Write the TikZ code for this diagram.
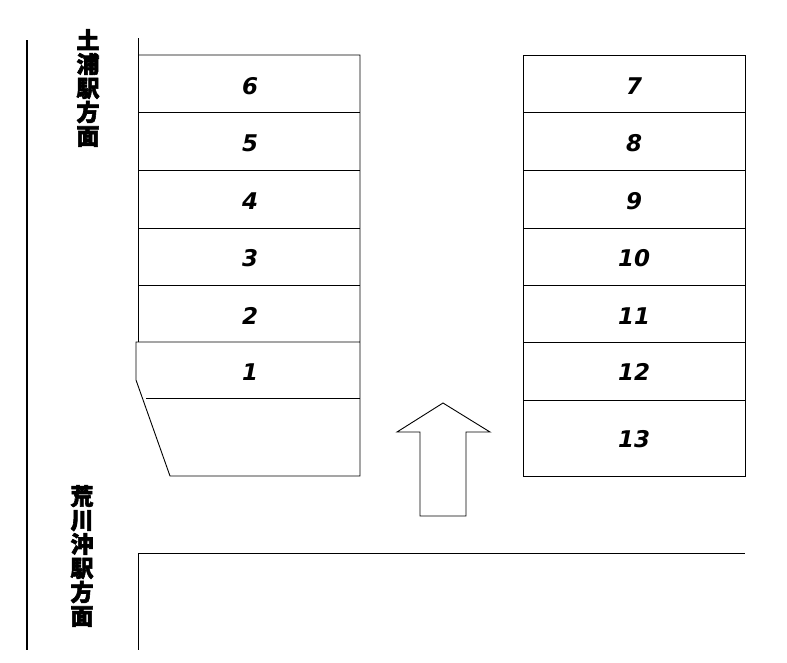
\documentclass[tikz,border=0pt]{standalone}
\usepackage{fontspec}
\newfontfamily\cjk{Noto Sans CJK JP}[FakeBold=2.5]
\setsansfont{DejaVu Sans}
\begin{document}
\begin{tikzpicture}[x=1pt,y=-1pt,line width=0.9pt,
  num/.style={font=\sffamily\bfseries\itshape\fontsize{23}{23}\selectfont},
  dir/.style={font=\cjk\bfseries\fontsize{23}{24}\selectfont,align=center,inner sep=0pt}]
\useasboundingbox (0,0) rectangle (787,662);
% road edge
\draw[line width=2pt] (27,40) -- (27,650);
\node[dir] (north) at (88,88) {土\\浦\\駅\\方\\面};
\node[dir] (south) at (82,556) {荒\\川\\沖\\駅\\方\\面};
% left block
\draw (138,38) -- (138,342);
\draw (138,55) -- (360,55) -- (360,476) -- (170,476) -- (136,380) -- (136,342) -- (360,342);
\draw (138,112) -- (360,112);
\draw (138,170) -- (360,170);
\draw (138,228) -- (360,228);
\draw (138,285) -- (360,285);
\draw (146,398) -- (360,398);
% right block
\draw (523,55) rectangle (745,476);
\draw (523,112) -- (745,112);
\draw (523,170) -- (745,170);
\draw (523,228) -- (745,228);
\draw (523,285) -- (745,285);
\draw (523,342) -- (745,342);
\draw (523,400) -- (745,400);
% col, row
\node[num] (s6) at (250,86) {6};
\node[num] (s5) at (250,143) {5};
\node[num] (s4) at (250,201) {4};
\node[num] (s3) at (250,258) {3};
\node[num] (s2) at (250,316) {2};
\node[num] (s1) at (250,372) {1};
\node[num] (s7) at (634,86) {7};
\node[num] (s8) at (634,143) {8};
\node[num] (s9) at (634,201) {9};
\node[num] (s10) at (634,258) {10};
\node[num] (s11) at (634,316) {11};
\node[num] (s12) at (634,372) {12};
\node[num] (s13) at (634,439) {13};
% arrow
\draw (443,403) -- (490,432) -- (466,432) -- (466,516) -- (420,516) -- (420,432) -- (397,432) -- cycle;
% bottom road
\draw (138,553) -- (745,553);
\draw (138,553) -- (138,650);
\end{tikzpicture}
\end{document}
